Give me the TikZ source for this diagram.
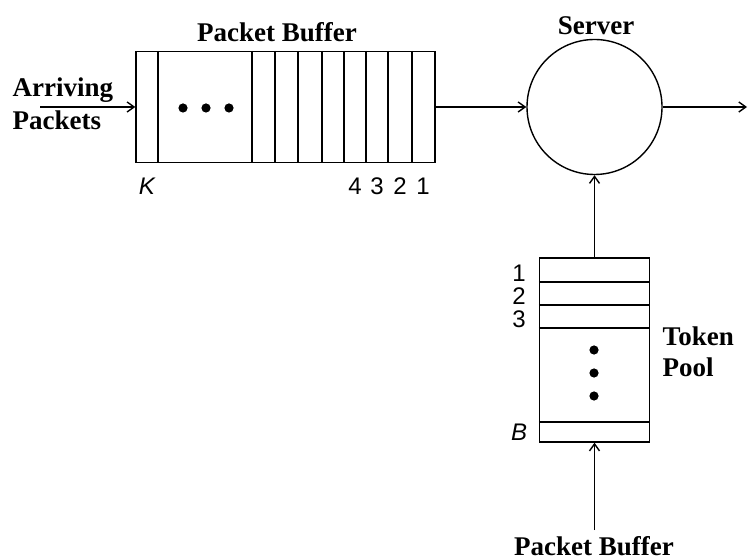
\documentclass[tikz,border=0pt]{standalone}
\usepackage{fontspec}
\setmainfont{Liberation Serif}
\setsansfont{Liberation Sans}
\usetikzlibrary{positioning, arrows.meta}

\begin{document}
\begin{tikzpicture}[
    x=0.5pt, y=-0.5pt,
    >={Straight Barb[length=3.5pt, width=5pt]},
    line width=0.7pt,
    labelText/.style={font=\bfseries\fontsize{13.5}{16}\selectfont, inner sep=0pt},
    numText/.style={font=\sffamily\fontsize{12}{14}\selectfont, inner sep=0pt},
    queueBox/.style={draw, rectangle, inner sep=0pt},
    serverNode/.style={draw, circle, inner sep=0pt, minimum size=67.5pt},
    dotMark/.style={fill, circle, inner sep=0pt, minimum size=4.6pt},
  ]
  \useasboundingbox (0,0) rectangle (748,560);

  % queues and server
  \node[queueBox, minimum width=149.5pt, minimum height=55.5pt] (buffer) at (285.5,107) {};
  \node[serverNode] (server) at (594.5,107) {};
  \node[queueBox, minimum width=55pt, minimum height=92pt] (pool) at (594.5,350) {};

  % slots of the packet buffer
  \foreach \sx in {158,252,275,298,322,344,366,388,412}
    \draw (\sx,0 |- buffer.north) -- (\sx,0 |- buffer.south);
  \foreach \sx in {183,206,229}
    \node[dotMark] at (\sx,108) {};

  % slots of the token pool
  \foreach \sy in {282,305,328,422}
    \draw (pool.west |- 0,\sy) -- (pool.east |- 0,\sy);
  \foreach \sy in {350,373,396}
    \node[dotMark] at (594,\sy) {};

  % labels
  \node[labelText, anchor=base] (bufferT) at (277,42) {Packet Buffer};
  \node[labelText, anchor=base west] (arrivingT) at (12,97) {Arriving};
  \node[labelText, anchor=base west] (packetsT) at (12,130) {Packets};
  \node[labelText, anchor=base] (serverT) at (596,35) {Server};
  \node[labelText, anchor=base west] (tokenT) at (662,346) {Token};
  \node[labelText, anchor=base west] (poolT) at (662,377) {Pool};
  \node[labelText, anchor=base] (sourceT) at (594,555) {Packet Buffer};

  \node[numText] (slotK) at (147,186) {\itshape K};
  \node[numText] (slotD) at (355,186) {4};
  \node[numText] (slotC) at (377,186) {3};
  \node[numText] (slotB) at (400,186) {2};
  \node[numText] (slotA) at (423,186) {1};

  \node[numText] (tokA) at (519,273) {1};
  \node[numText] (tokB) at (519,296) {2};
  \node[numText] (tokC) at (519,319) {3};
  \node[numText] (tokK) at (519,432) {\itshape B};

  % lines
  \coordinate (arrIn) at (40,107);
  \coordinate (srvOut) at (747,107);
  \coordinate (tokIn) at (594.5,530);
  \draw[->] (arrIn) -- (buffer.west);
  \draw[->] (buffer.east) -- (server.west);
  \draw[->] (server.east) -- (srvOut);
  \draw[->] (pool.north) -- (server.south);
  \draw[->] (tokIn) -- (pool.south);
\end{tikzpicture}
\end{document}
